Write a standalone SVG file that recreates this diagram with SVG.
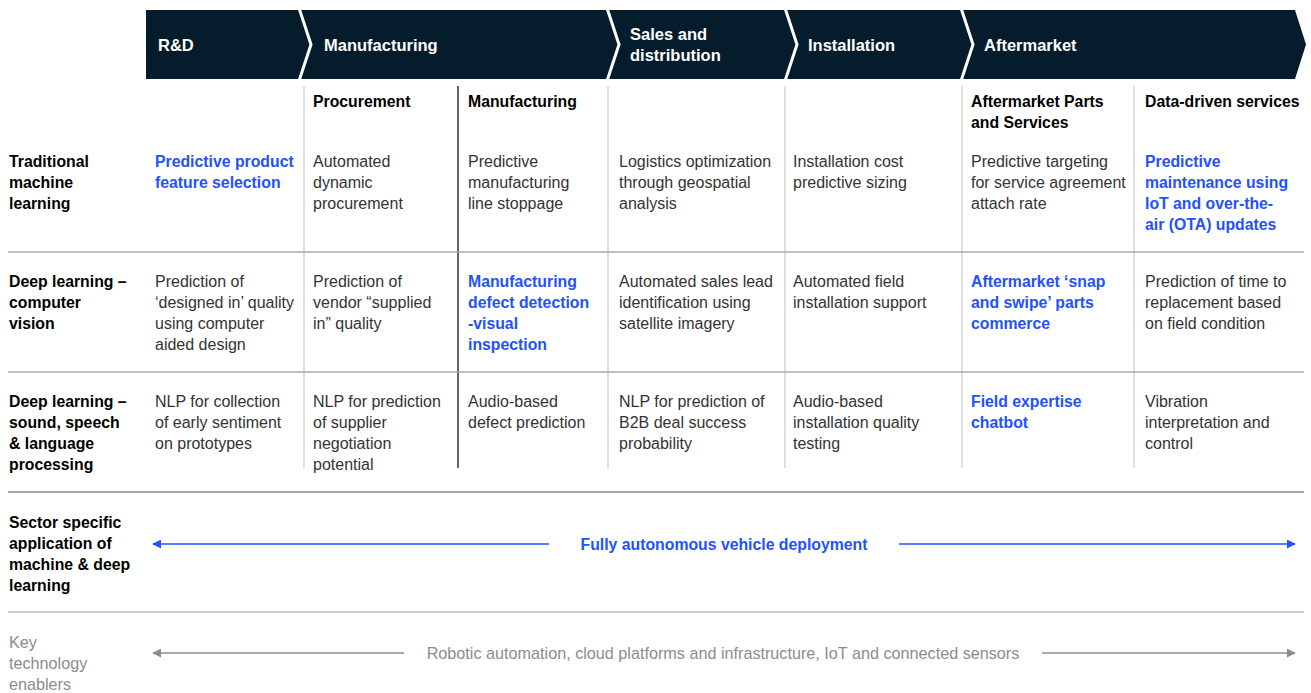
<svg xmlns="http://www.w3.org/2000/svg" width="1311" height="693" viewBox="0 0 1311 693">
<style>
text{font-family:"Liberation Sans",Arial,sans-serif;font-size:16px;}
.hd{fill:#ffffff;font-weight:bold;font-size:16.5px;}
.sh{fill:#000000;font-weight:bold;font-size:15.8px;}
.rl{fill:#000000;font-weight:bold;font-size:15.8px;}
.tx{fill:#333333;font-size:16px;}
.bl{fill:#2251ff;font-weight:bold;font-size:15.8px;}
.gr{fill:#8c8c8c;font-size:16.2px;}
.vl{stroke:#cccccc;stroke-width:1.2;}
.vd{stroke:#333333;stroke-width:1.5;}
.hl{stroke:#aaaaaa;stroke-width:1.5;}
</style>
<defs>
<marker id="ab" viewBox="0 0 10 10" refX="9" refY="5" markerWidth="9" markerHeight="9" markerUnits="userSpaceOnUse" orient="auto-start-reverse"><path d="M0,0 L10,5 L0,10 Z" fill="#2251ff"/></marker>
<marker id="ag" viewBox="0 0 10 10" refX="9" refY="5" markerWidth="9" markerHeight="9" markerUnits="userSpaceOnUse" orient="auto-start-reverse"><path d="M0,0 L10,5 L0,10 Z" fill="#8c8c8c"/></marker>
</defs>
<rect width="1311" height="693" fill="#ffffff"/>

<g id="header">
<path d="M146,10 L1295,10 L1306,44.5 L1295,79 L146,79 Z" fill="#051c2c"/>
<g fill="none" stroke="#ffffff" stroke-width="3">
<polyline points="299,8 311,44.5 299,81"/>
<polyline points="607,8 619,44.5 607,81"/>
<polyline points="785,8 797,44.5 785,81"/>
<polyline points="961,8 973,44.5 961,81"/>
</g>
<text class="hd" x="158" y="51">R&amp;D</text>
<text class="hd" x="324" y="51">Manufacturing</text>
<text class="hd" x="630" y="40">Sales and</text>
<text class="hd" x="630" y="61">distribution</text>
<text class="hd" x="808" y="51">Installation</text>
<text class="hd" x="984" y="51">Aftermarket</text>
</g>

<g id="grid">
<line class="vl" x1="304" y1="86" x2="304" y2="468"/>
<line class="vd" x1="458" y1="86" x2="458" y2="468"/>
<line class="vl" x1="608" y1="86" x2="608" y2="468"/>
<line class="vl" x1="785" y1="86" x2="785" y2="468"/>
<line class="vl" x1="962" y1="86" x2="962" y2="468"/>
<line class="vl" x1="1134" y1="86" x2="1134" y2="468"/>
<line class="hl" x1="8" y1="252" x2="1304" y2="252"/>
<line class="hl" x1="8" y1="372" x2="1304" y2="372"/>
<line stroke="#888888" stroke-width="1.5" x1="8" y1="492" x2="1304" y2="492"/>
<line stroke="#bbbbbb" stroke-width="1.5" x1="8" y1="612" x2="1304" y2="612"/>
</g>

<g id="subheaders">
<text class="sh" x="313" y="107">Procurement</text>
<text class="sh" x="468" y="107">Manufacturing</text>
<text class="sh" x="971" y="107">Aftermarket Parts</text>
<text class="sh" x="971" y="128">and Services</text>
<text class="sh" x="1145" y="107">Data-driven services</text>
</g>

<g id="row-labels">
<text class="rl" x="9" y="167">Traditional</text>
<text class="rl" x="9" y="188">machine</text>
<text class="rl" x="9" y="209">learning</text>
<text class="rl" x="9" y="287">Deep learning –</text>
<text class="rl" x="9" y="308">computer</text>
<text class="rl" x="9" y="329">vision</text>
<text class="rl" x="9" y="407">Deep learning –</text>
<text class="rl" x="9" y="428">sound, speech</text>
<text class="rl" x="9" y="449">&amp; language</text>
<text class="rl" x="9" y="470">processing</text>
<text class="rl" x="9" y="528">Sector specific</text>
<text class="rl" x="9" y="549">application of</text>
<text class="rl" x="9" y="570">machine &amp; deep</text>
<text class="rl" x="9" y="591">learning</text>
<text class="gr" x="9" y="648">Key</text>
<text class="gr" x="9" y="669">technology</text>
<text class="gr" x="9" y="690">enablers</text>
</g>

<g id="row1">
<text class="bl" x="155" y="167">Predictive product</text>
<text class="bl" x="155" y="188">feature selection</text>
<text class="tx" x="313" y="167">Automated</text>
<text class="tx" x="313" y="188">dynamic</text>
<text class="tx" x="313" y="209">procurement</text>
<text class="tx" x="468" y="167">Predictive</text>
<text class="tx" x="468" y="188">manufacturing</text>
<text class="tx" x="468" y="209">line stoppage</text>
<text class="tx" x="619" y="167">Logistics optimization</text>
<text class="tx" x="619" y="188">through geospatial</text>
<text class="tx" x="619" y="209">analysis</text>
<text class="tx" x="793" y="167">Installation cost</text>
<text class="tx" x="793" y="188">predictive sizing</text>
<text class="tx" x="971" y="167">Predictive targeting</text>
<text class="tx" x="971" y="188">for service agreement</text>
<text class="tx" x="971" y="209">attach rate</text>
<text class="bl" x="1145" y="167">Predictive</text>
<text class="bl" x="1145" y="188">maintenance using</text>
<text class="bl" x="1145" y="209">IoT and over-the-</text>
<text class="bl" x="1145" y="230">air (OTA) updates</text>
</g>

<g id="row2">
<text class="tx" x="155" y="287">Prediction of</text>
<text class="tx" x="155" y="308">‘designed in’ quality</text>
<text class="tx" x="155" y="329">using computer</text>
<text class="tx" x="155" y="350">aided design</text>
<text class="tx" x="313" y="287">Prediction of</text>
<text class="tx" x="313" y="308">vendor “supplied</text>
<text class="tx" x="313" y="329">in” quality</text>
<text class="bl" x="468" y="287">Manufacturing</text>
<text class="bl" x="468" y="308">defect detection</text>
<text class="bl" x="468" y="329">-visual</text>
<text class="bl" x="468" y="350">inspection</text>
<text class="tx" x="619" y="287">Automated sales lead</text>
<text class="tx" x="619" y="308">identification using</text>
<text class="tx" x="619" y="329">satellite imagery</text>
<text class="tx" x="793" y="287">Automated field</text>
<text class="tx" x="793" y="308">installation support</text>
<text class="bl" x="971" y="287">Aftermarket ‘snap</text>
<text class="bl" x="971" y="308">and swipe’ parts</text>
<text class="bl" x="971" y="329">commerce</text>
<text class="tx" x="1145" y="287">Prediction of time to</text>
<text class="tx" x="1145" y="308">replacement based</text>
<text class="tx" x="1145" y="329">on field condition</text>
</g>

<g id="row3">
<text class="tx" x="155" y="407">NLP for collection</text>
<text class="tx" x="155" y="428">of early sentiment</text>
<text class="tx" x="155" y="449">on prototypes</text>
<text class="tx" x="313" y="407">NLP for prediction</text>
<text class="tx" x="313" y="428">of supplier</text>
<text class="tx" x="313" y="449">negotiation</text>
<text class="tx" x="313" y="470">potential</text>
<text class="tx" x="468" y="407">Audio-based</text>
<text class="tx" x="468" y="428">defect prediction</text>
<text class="tx" x="619" y="407">NLP for prediction of</text>
<text class="tx" x="619" y="428">B2B deal success</text>
<text class="tx" x="619" y="449">probability</text>
<text class="tx" x="793" y="407">Audio-based</text>
<text class="tx" x="793" y="428">installation quality</text>
<text class="tx" x="793" y="449">testing</text>
<text class="bl" x="971" y="407">Field expertise</text>
<text class="bl" x="971" y="428">chatbot</text>
<text class="tx" x="1145" y="407">Vibration</text>
<text class="tx" x="1145" y="428">interpretation and</text>
<text class="tx" x="1145" y="449">control</text>
</g>

<g id="connectors">
<line x1="549" y1="544" x2="153" y2="544" stroke="#2251ff" stroke-width="1.5" marker-end="url(#ab)"/>
<line x1="899" y1="544" x2="1295" y2="544" stroke="#2251ff" stroke-width="1.5" marker-end="url(#ab)"/>
<line x1="404" y1="653" x2="153" y2="653" stroke="#8c8c8c" stroke-width="1.5" marker-end="url(#ag)"/>
<line x1="1042" y1="653" x2="1295" y2="653" stroke="#8c8c8c" stroke-width="1.5" marker-end="url(#ag)"/>
</g>

<g id="spans">
<text class="bl" x="724" y="550" text-anchor="middle">Fully autonomous vehicle deployment</text>
<text class="gr" x="723" y="659" text-anchor="middle">Robotic automation, cloud platforms and infrastructure, IoT and connected sensors</text>
</g>
</svg>
